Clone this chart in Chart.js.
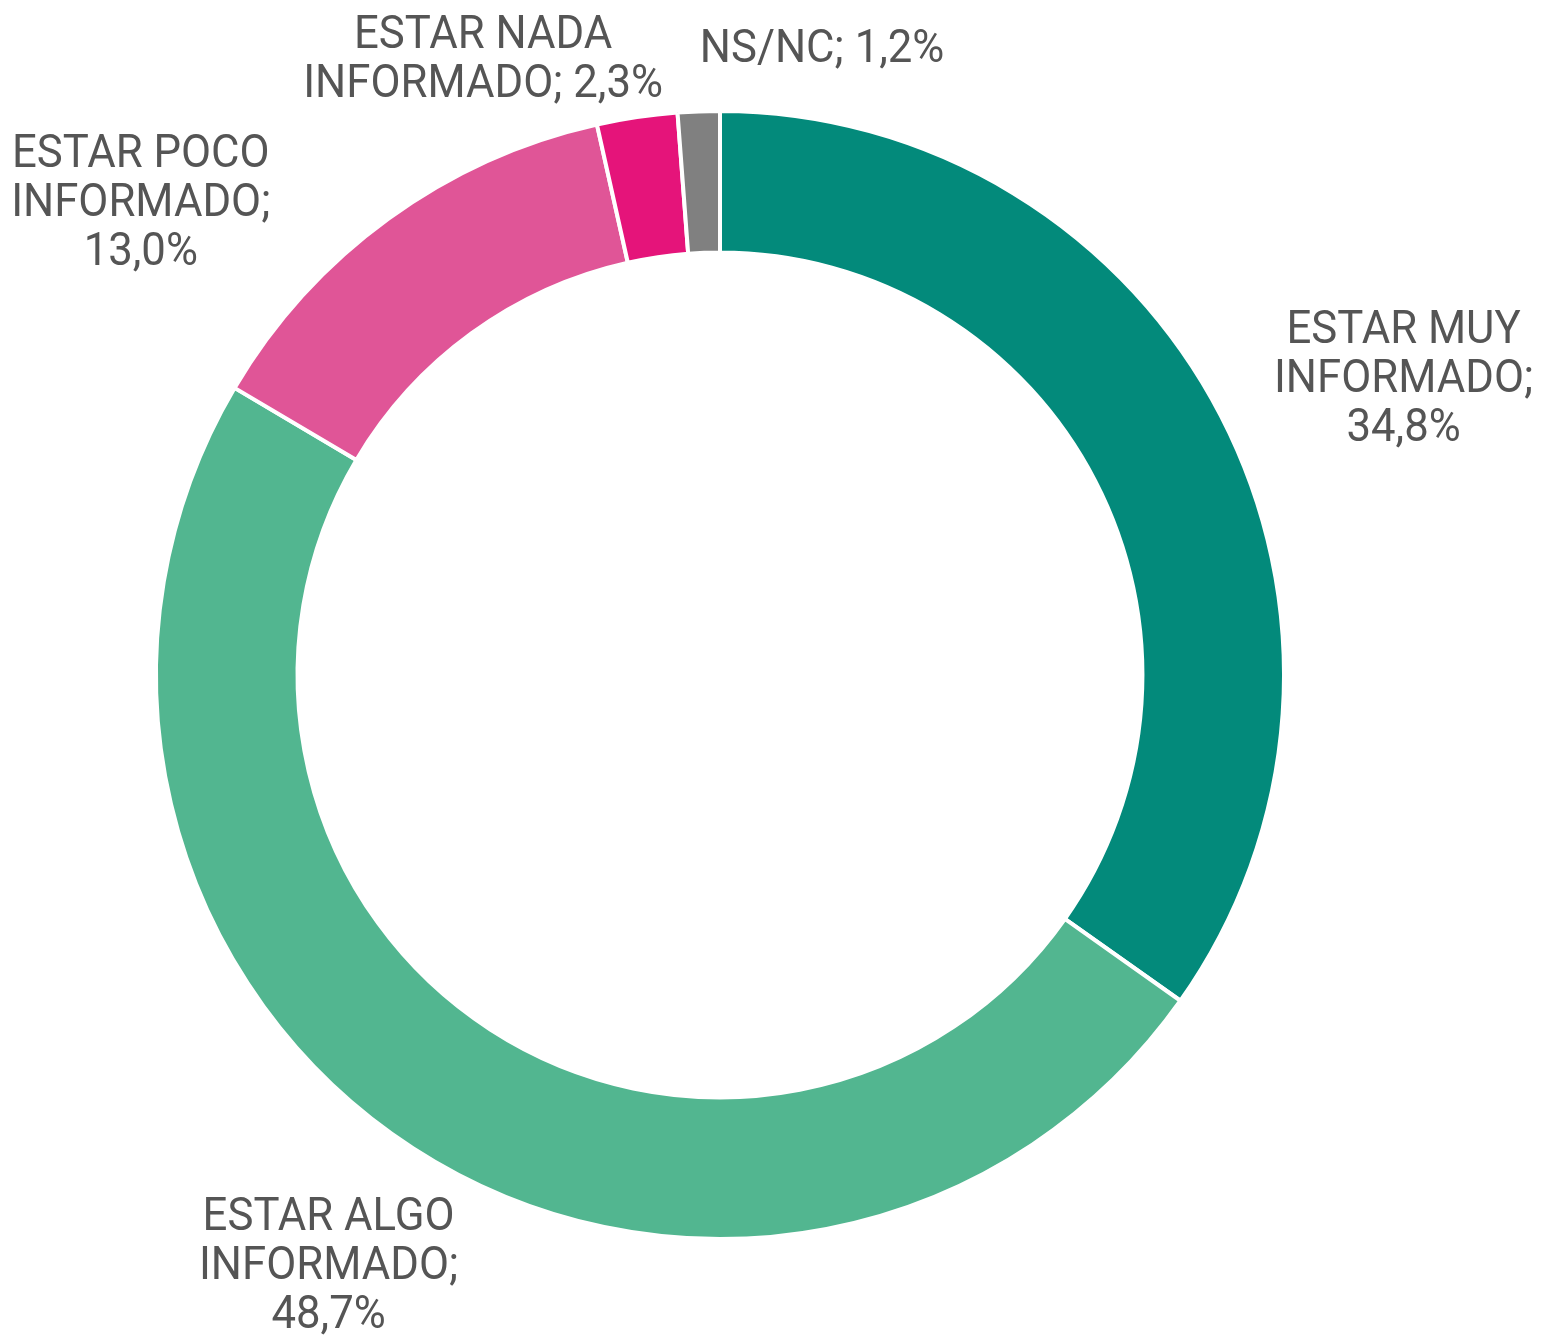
<!DOCTYPE html>
<html>
<head>
<meta charset="utf-8">
<script src="https://cdn.jsdelivr.net/npm/chart.js@4.4.0/dist/chart.umd.min.js"></script>
<style>
  html, body { margin: 0; padding: 0; background: #fff; }
  #wrap { width: 1555px; height: 1336px; }
</style>
</head>
<body>
<div id="wrap"><canvas id="chart"></canvas></div>
<script>
// Datos
const categorias = [
  ['ESTAR MUY', 'INFORMADO;', '34,8%'],
  ['ESTAR ALGO', 'INFORMADO;', '48,7%'],
  ['ESTAR POCO', 'INFORMADO;', '13,0%'],
  ['ESTAR NADA', 'INFORMADO; 2,3%'],
  ['NS/NC; 1,2%']
];
const valores = [34.8, 48.7, 13.0, 2.3, 1.2];
const colores = ['#038a7b', '#52b690', '#e05597', '#e5147a', '#808080'];

// Posición de cada etiqueta respecto al centro, en radios
const etiquetaPos = [
  [1.212, -0.523],
  [-0.694, 1.050],
  [-1.027, -0.835],
  [-0.420, -1.089],
  [0.181, -1.107]
];

const etiquetas = {
  id: 'etiquetas',
  afterDraw(chart) {
    const { ctx } = chart;
    const arc = chart.getDatasetMeta(0).data[0];
    const { x: cx, y: cy, outerRadius: r } = arc;
    ctx.save();
    ctx.fillStyle = '#555555';
    ctx.font = '46px Roboto';
    ctx.textAlign = 'center';
    ctx.textBaseline = 'middle';
    const lh = 49;
    categorias.forEach((lineas, i) => {
      const [dx, dy] = etiquetaPos[i];
      const x = cx + dx * r, y = cy + dy * r;
      const y0 = y - (lineas.length - 1) * lh / 2;
      lineas.forEach((t, j) => {
        ctx.save();
        ctx.translate(x, y0 + j * lh);
        ctx.scale(0.95, 1);
        ctx.fillText(t, 0, 0);
        ctx.restore();
      });
    });
    ctx.restore();
  }
};

new Chart(document.getElementById('chart'), {
  type: 'doughnut',
  data: {
    labels: categorias.map(l => l.join(' ')),
    datasets: [{
      data: valores,
      backgroundColor: colores,
      borderColor: '#ffffff',
      borderWidth: 4
    }]
  },
  options: {
    responsive: true,
    maintainAspectRatio: false,
    animation: false,
    cutout: '74.9%',
    layout: { padding: { left: 154, right: 269, top: 109, bottom: 95 } },
    plugins: {
      legend: { display: false },
      tooltip: { enabled: false }
    }
  },
  plugins: [etiquetas]
});
</script>
</body>
</html>
